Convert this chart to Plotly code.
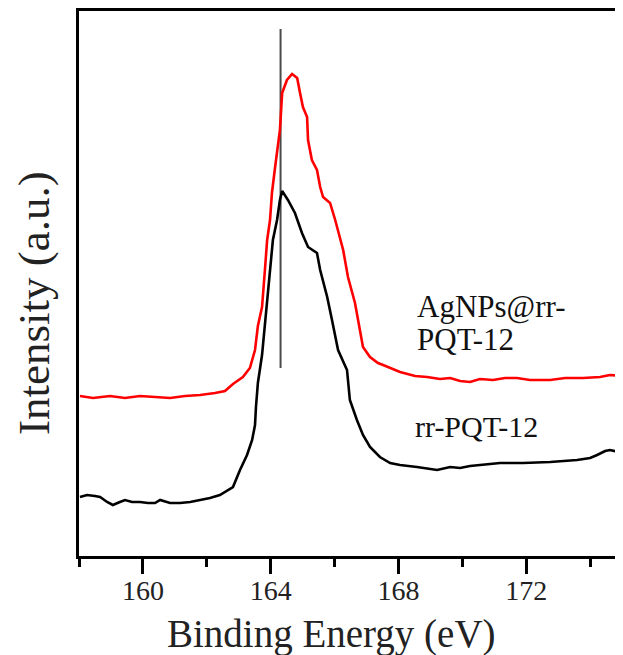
import plotly.graph_objects as go

# Binding energy (eV) and intensity (a.u.)
red_x = [158.03, 158.44, 158.97, 159.44, 159.91, 160.54, 160.85, 161.32, 161.79, 162.26,
         162.57, 162.82, 163.13, 163.35, 163.51, 163.60, 163.73, 163.82, 163.89, 163.98,
         164.04, 164.14, 164.29, 164.36, 164.51, 164.67, 164.83, 164.92, 165.01, 165.14,
         165.17, 165.29, 165.45, 165.55, 165.64, 165.86, 166.02, 166.27, 166.42, 166.64,
         166.80, 166.89, 167.11, 167.36, 167.52, 168.05, 168.52, 168.90, 169.30, 169.62,
         169.93, 170.24, 170.55, 170.96, 171.34, 171.71, 172.12, 172.75, 173.22, 173.78,
         174.31, 174.62, 175.03]
red_y = [160, 158, 160, 158, 160, 159, 158, 160, 161, 163,
         165, 172, 179, 188, 206, 230, 249, 286, 316, 336,
         363, 389, 426, 463, 476, 482, 478, 463, 449, 439,
         416, 396, 386, 369, 359, 353, 336, 306, 279, 253,
         226, 209, 199, 193, 191, 184, 180, 179, 177, 178,
         175, 174, 177, 176, 178, 178, 176, 176, 178, 178,
         179, 181, 180]

black_x = [158.03, 158.25, 158.50, 158.66, 158.88, 159.06, 159.28, 159.44, 159.66, 159.91,
           160.16, 160.38, 160.54, 160.85, 161.16, 161.48, 161.79, 162.10, 162.41, 162.60,
           162.82, 163.04, 163.26, 163.42, 163.51, 163.54, 163.60, 163.73, 163.89, 163.98,
           164.07, 164.20, 164.29, 164.36, 164.54, 164.76, 164.98, 165.17, 165.45, 165.55,
           165.77, 165.92, 166.11, 166.39, 166.48, 166.70, 166.89, 167.11, 167.42, 167.74,
           168.05, 168.58, 169.21, 169.62, 169.93, 170.24, 170.65, 171.18, 171.90, 172.75,
           173.59, 174.00, 174.22, 174.47, 174.62, 174.94, 175.03]
black_y = [59, 61, 60, 59, 54, 51, 54, 56, 54, 54,
           53, 53, 56, 53, 53, 54, 56, 58, 61, 65,
           69, 86, 101, 116, 131, 149, 173, 201, 253, 286,
           316, 336, 356, 365, 356, 343, 323, 309, 303, 286,
           259, 236, 206, 186, 156, 136, 121, 109, 99, 93,
           91, 89, 86, 89, 88, 90, 91, 93, 93, 94,
           96, 98, 101, 105, 106, 104, 103]

marker_x = [164.31, 164.31]
marker_y = [188, 527]

x_range = [158, 175.03]
y_range = [0, 545]
tick_vals = [160, 164, 168, 172]

FONT = "Liberation Serif, Times New Roman, serif"

fig = go.Figure()
fig.add_trace(go.Scatter(x=marker_x, y=marker_y, mode="lines",
                         line=dict(color="#4a4a4a", width=2), showlegend=False))
fig.add_trace(go.Scatter(x=black_x, y=black_y, mode="lines",
                         line=dict(color="black", width=2.6), showlegend=False))
fig.add_trace(go.Scatter(x=red_x, y=red_y, mode="lines",
                         line=dict(color="#ff0000", width=2.6), showlegend=False))

fig.update_layout(
    width=615, height=647,
    margin=dict(l=71, r=0, t=3, b=99),
    paper_bgcolor="white", plot_bgcolor="white",
    font=dict(family=FONT, color="#1a1a1a"),
    xaxis=dict(range=x_range, tickvals=tick_vals, ticks="outside", ticklen=15,
               tickwidth=3, tickcolor="black", showline=True, linecolor="black",
               linewidth=3, mirror=True, showgrid=False, zeroline=False,
               ticklabelstandoff=-8,
               tickfont=dict(family=FONT, size=28, color="#222"),
               minor=dict(tickvals=[158, 162, 166, 170, 174], ticks="outside",
                          ticklen=8, tickwidth=3, tickcolor="black")),
    yaxis=dict(range=y_range, showticklabels=False, ticks="", showline=True,
               linecolor="black", linewidth=3, mirror=False, showgrid=False,
               zeroline=False),
    annotations=[
        dict(text="AgNPs@rr-", x=168.52, y=250, xref="x", yref="y", xanchor="left",
             yanchor="middle", showarrow=False, font=dict(family=FONT, size=31, color="#111")),
        dict(text="PQT-12", x=168.52, y=217, xref="x", yref="y", xanchor="left",
             yanchor="middle", showarrow=False, font=dict(family=FONT, size=31, color="#111")),
        dict(text="rr-PQT-12", x=168.46, y=130, xref="x", yref="y", xanchor="left",
             yanchor="middle", showarrow=False, font=dict(family=FONT, size=30, color="#111")),
        dict(text="Binding Energy (eV)", x=0.465, y=-0.143, xref="paper", yref="paper",
             xanchor="center", yanchor="middle", showarrow=False,
             font=dict(family=FONT, size=39, color="#222")),
        dict(text="Intensity (a.u.)", x=-0.083, y=0.464, xref="paper", yref="paper",
             xanchor="center", yanchor="middle", textangle=-90, showarrow=False,
             font=dict(family=FONT, size=45, color="#222")),
    ],
)

fig.write_html("out.html")
